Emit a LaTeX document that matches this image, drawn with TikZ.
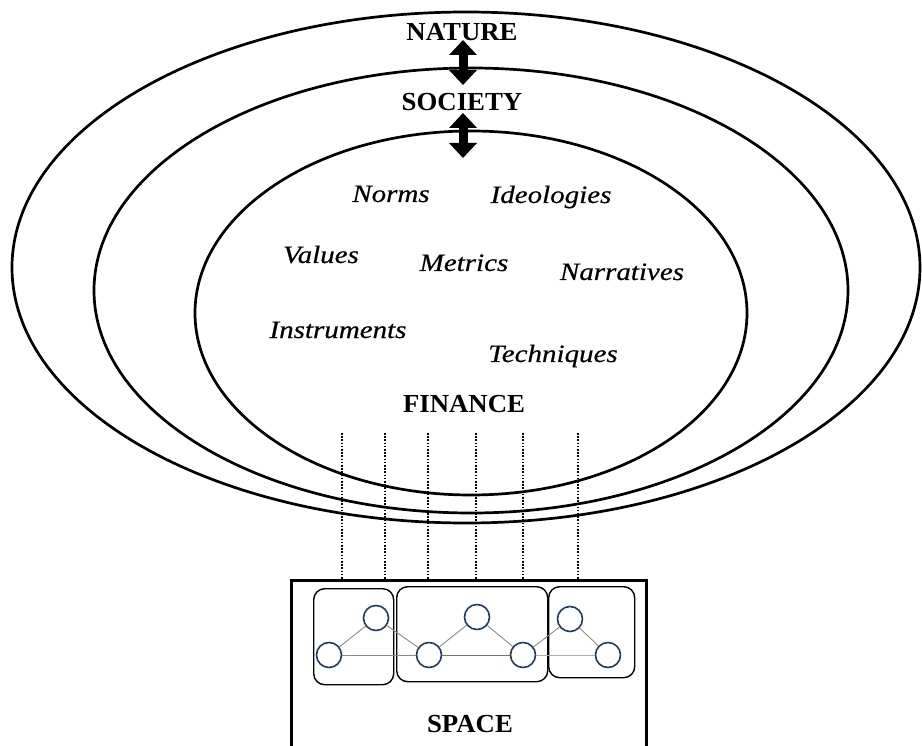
\documentclass[tikz,border=0pt]{standalone}
\usepackage{fontspec}
\setmainfont{Liberation Serif}
\newfontfamily\capfont[FakeStretch=1.03]{Liberation Serif}
\newfontfamily\labfont[FakeStretch=1.16,FakeBold=0.5]{Liberation Serif}
\usetikzlibrary{arrows.meta}
\definecolor{navy}{HTML}{1F3A5A}
\definecolor{linkgray}{HTML}{8A8A8A}
\tikzset{
  ring/.style={draw=black, line width=2.7pt},
  caplabel/.style={anchor=base, inner sep=0pt, font=\capfont\bfseries\fontsize{26}{30}\selectfont},
  itlabel/.style={anchor=base, inner sep=0pt, font=\labfont\itshape\fontsize{25}{30}\selectfont},
  dblarrow/.style={line width=9pt, {Triangle[width=27pt,length=15pt]}-{Triangle[width=27pt,length=15pt]}},
  dotline/.style={line width=1.6pt, dash pattern=on 1.6pt off 1.6pt},
  region/.style={draw=black, line width=1.4pt, rounded corners=11pt},
  site/.style={circle, draw=navy, line width=1.6pt, fill=white, minimum size=25pt, inner sep=0pt},
  link/.style={draw=linkgray, line width=0.9pt}
}
\begin{document}
\begin{tikzpicture}[x=1pt, y=-1pt]
\clip (0,0) rectangle (922,746);
\fill[white] (0,0) rectangle (922,746);

% nested ellipses
\draw[ring] (466,267.5) ellipse [x radius=454, y radius=255.5];
\draw[ring] (471,290.5) ellipse [x radius=377, y radius=222.5];
\draw[ring] (471,313) ellipse [x radius=276, y radius=182];

% layer titles
\node[caplabel] (nature) at (462,41) {NATURE};
\node[caplabel] (society) at (462,111) {SOCIETY};
\node[caplabel] (finance) at (464,412) {FINANCE};

% double arrows
\coordinate (a1top) at (463,40);
\coordinate (a1bot) at (463,85);
\coordinate (a2top) at (463,113);
\coordinate (a2bot) at (463,158);
\draw[dblarrow] (a1top) -- (a1bot);
\draw[dblarrow] (a2top) -- (a2bot);

% finance elements
\node[itlabel] (norms) at (391,202) {Norms};
\node[itlabel] (ideol) at (551,203) {Ideologies};
\node[itlabel] (values) at (321,263) {Values};
\node[itlabel] (metrics) at (464,271) {Metrics};
\node[itlabel] (narr) at (622,280) {Narratives};
\node[itlabel] (instr) at (338,338) {Instruments};
\node[itlabel] (tech) at (553,362) {Techniques};

% space box
\node[draw=black, line width=2.6pt, minimum width=355pt, minimum height=220pt, inner sep=0pt, anchor=north west] (spacebox) at (290,579) {};
\node[caplabel] (space) at (470,732) {SPACE};

% dotted projections
\foreach \i/\x in {1/342,2/385,3/428,4/476,5/523,6/578}{
  \coordinate (dtop\i) at (\x,433);
  \draw[dotline] (dtop\i) -- (dtop\i |- spacebox.north);
}

% regions
\node[region, minimum width=80pt, minimum height=96pt, anchor=north west] (r1) at (313,588) {};
\node[region, minimum width=151pt, minimum height=95pt, anchor=north west] (r2) at (396,586) {};
\node[region, minimum width=86pt, minimum height=91pt, anchor=north west] (r3) at (548,586) {};

% sites
\node[site] (c1) at (329,655) {};
\node[site] (c2) at (376,618) {};
\node[site] (c3) at (429,655) {};
\node[site] (c4) at (477,617) {};
\node[site] (c5) at (523,655) {};
\node[site] (c6) at (570,619) {};
\node[site] (c7) at (608,655) {};

% links between sites
\path[link] (c1) -- (c2);
\path[link] (c2) -- (c3);
\path[link] (c3) -- (c4);
\path[link] (c4) -- (c5);
\path[link] (c5) -- (c6);
\path[link] (c6) -- (c7);
\path[link] (c1) -- (c3);
\path[link, draw=gray!90!black] (c3) -- (c5);
\path[link, draw=linkgray!70] (c5) -- (c7);
\end{tikzpicture}
\end{document}
